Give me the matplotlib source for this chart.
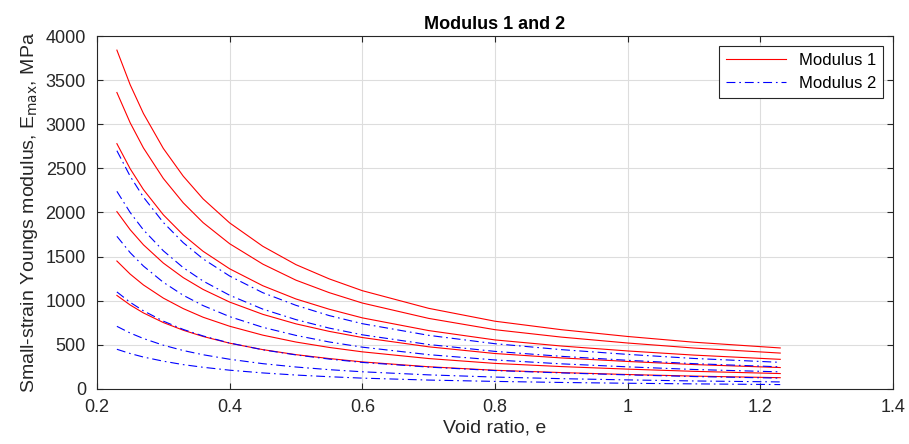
import matplotlib
matplotlib.use("Agg")
import matplotlib.pyplot as plt
import numpy as np

plt.rcParams['font.family'] = ['Liberation Sans', 'DejaVu Sans']

# void ratio sample points
e = [0.23, 0.25, 0.27, 0.3, 0.33, 0.36, 0.4, 0.45, 0.5, 0.55, 0.6, 0.7, 0.8, 0.9, 1.0, 1.1, 1.23]

# Modulus 1 curves (MPa)
mod1 = [
    [3840, 3448, 3122, 2726, 2412, 2154, 1882, 1617, 1409, 1248, 1114, 914, 768, 672, 595, 530, 465],
    [3360, 3017, 2732, 2386, 2110, 1885, 1646, 1415, 1233, 1092, 974, 800, 672, 588, 521, 464, 407],
    [2780, 2496, 2260, 1974, 1746, 1560, 1362, 1170, 1020, 904, 806, 662, 556, 487, 431, 384, 336],
    [2010, 1805, 1634, 1427, 1262, 1128, 985, 846, 738, 653, 583, 478, 402, 352, 312, 277, 243],
    [1450, 1302, 1179, 1030, 911, 813, 711, 610, 532, 471, 421, 345, 290, 254, 225, 200, 175],
    [1060, 952, 862, 753, 666, 595, 519, 446, 389, 345, 307, 252, 212, 186, 164, 146, 128],
]

# Modulus 2 curves (MPa)
mod2 = [
    [2700, 2411, 2174, 1887, 1658, 1474, 1280, 1091, 948, 832, 740, 608, 513, 446, 392, 346, 302],
    [2240, 2000, 1803, 1566, 1375, 1223, 1062, 905, 786, 690, 614, 504, 426, 370, 325, 287, 251],
    [1730, 1545, 1393, 1209, 1062, 945, 820, 699, 607, 533, 474, 389, 329, 285, 251, 221, 194],
    [1100, 982, 886, 769, 675, 601, 521, 444, 386, 339, 301, 248, 209, 182, 160, 141, 123],
    [710, 634, 572, 496, 436, 388, 337, 287, 249, 219, 195, 160, 135, 117, 103, 91, 80],
    [450, 402, 362, 315, 276, 246, 213, 182, 158, 139, 123, 101, 86, 74, 65, 58, 50],
]

fig = plt.figure(figsize=(9.09, 4.44), dpi=100)
ax = fig.add_axes([0.1067, 0.1239, 0.8757, 0.795])

dashdot = (0, (8, 3.5, 1.5, 3.5))
for i, y in enumerate(mod1):
    ax.plot(e, y, '-', color='red', lw=0.8, label='Modulus 1' if i == 0 else None)
for i, y in enumerate(mod2):
    ax.plot(e, y, linestyle=dashdot, color='blue', lw=0.8, label='Modulus 2' if i == 0 else None)

ax.set_xlim(0.2, 1.4)
ax.set_ylim(0, 4000)
ax.set_xticks([0.2, 0.4, 0.6, 0.8, 1.0, 1.2, 1.4])
ax.set_xticklabels(['0.2', '0.4', '0.6', '0.8', '1', '1.2', '1.4'])
ax.set_yticks(np.arange(0, 4001, 500))
ax.grid(color='#dddddd', linewidth=0.8)
ax.set_axisbelow(True)
ax.tick_params(direction='in', labelsize=13, top=True, right=True, length=4, colors='#262626')
ax.tick_params(axis='y', pad=8)
ax.tick_params(axis='x', pad=7)
for s in ax.spines.values():
    s.set_color('#262626')
    s.set_linewidth(0.8)

ax.set_xlabel('Void ratio, e', fontsize=14, color='#262626', labelpad=3)
ax.set_ylabel('Small-strain Youngs modulus, E$_{\\mathrm{max}}$, MPa', fontsize=14,
              color='#262626', labelpad=4)
ax.set_title('Modulus 1 and 2', fontsize=13, fontweight='bold', pad=5)

leg = ax.legend(loc='upper right', fontsize=12, fancybox=False, framealpha=1,
                edgecolor='#262626', handlelength=3.6, borderaxespad=0.6)
leg.get_frame().set_linewidth(0.8)

fig.savefig('out.png', dpi=100)
